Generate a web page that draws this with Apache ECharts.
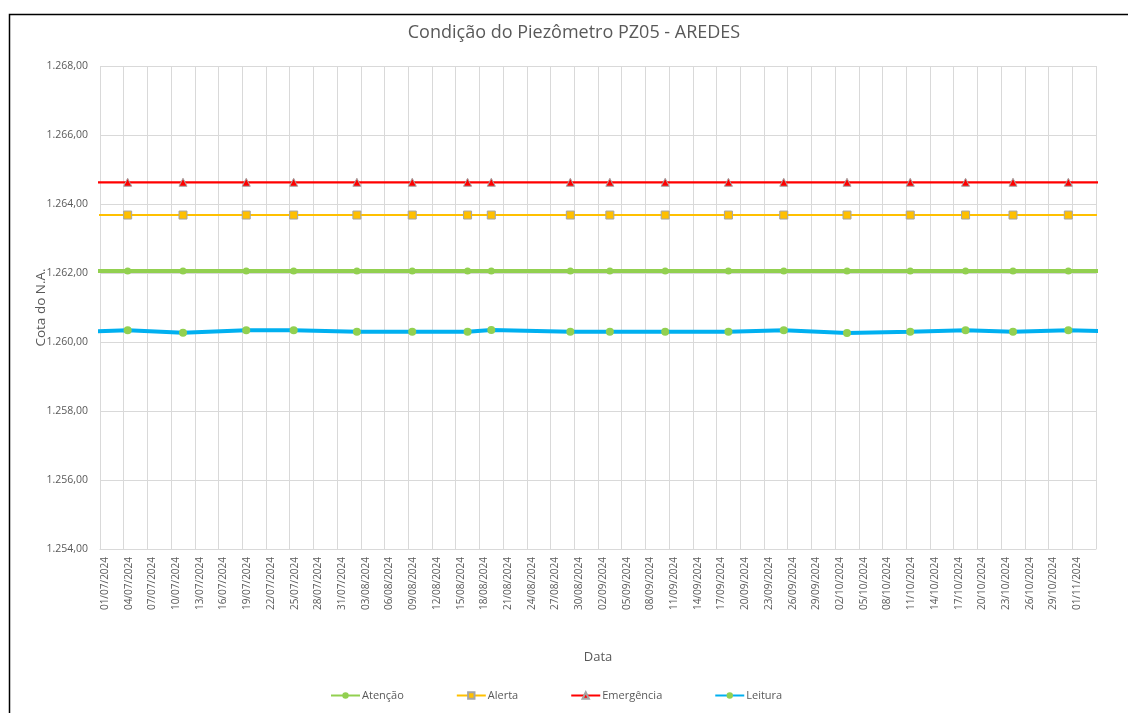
<!DOCTYPE html>
<html>
<head>
<meta charset="utf-8">
<script src="https://cdn.jsdelivr.net/npm/echarts@6/dist/echarts.min.js"></script>
<style>
  html, body { margin: 0; padding: 0; background: #ffffff; }
  #chart { width: 1128px; height: 713px; }
</style>
</head>
<body>
<div id="chart"></div>
<script>
// Reading dates (dd/mm/yyyy); first and last entries lie just outside the plotted window
const dates = [
  '27/06/2024', '04/07/2024', '11/07/2024', '19/07/2024', '25/07/2024', '02/08/2024',
  '09/08/2024', '16/08/2024', '19/08/2024', '29/08/2024', '03/09/2024', '10/09/2024',
  '18/09/2024', '25/09/2024', '03/10/2024', '11/10/2024', '18/10/2024', '24/10/2024',
  '31/10/2024', '07/11/2024'
];

// Threshold levels (m)
const atencao = [
  1262.06, 1262.06, 1262.06, 1262.06, 1262.06, 1262.06, 1262.06, 1262.06, 1262.06, 1262.06,
  1262.06, 1262.06, 1262.06, 1262.06, 1262.06, 1262.06, 1262.06, 1262.06, 1262.06, 1262.06
];
const alerta = [
  1263.68, 1263.68, 1263.68, 1263.68, 1263.68, 1263.68, 1263.68, 1263.68, 1263.68, 1263.68,
  1263.68, 1263.68, 1263.68, 1263.68, 1263.68, 1263.68, 1263.68, 1263.68, 1263.68, 1263.68
];
const emergencia = [
  1264.63, 1264.63, 1264.63, 1264.63, 1264.63, 1264.63, 1264.63, 1264.63, 1264.63, 1264.63,
  1264.63, 1264.63, 1264.63, 1264.63, 1264.63, 1264.63, 1264.63, 1264.63, 1264.63, 1264.63
];

// Water level readings (m)
const leitura = [
  1260.29, 1260.34, 1260.27, 1260.34, 1260.34, 1260.30, 1260.30, 1260.30, 1260.35, 1260.30,
  1260.30, 1260.30, 1260.30, 1260.34, 1260.26, 1260.30, 1260.34, 1260.30, 1260.34, 1260.30
];

// Axis settings
const axisStart = '01/07/2024';
const axisEnd = '04/11/2024';
const dayStep = 3;
const yMin = 1254, yMax = 1268, yStep = 2;

const DAY = 86400000;
function parseDate(s) {
  const [d, m, y] = s.split('/').map(Number);
  return Date.UTC(y, m - 1, d);
}
const t0 = parseDate(axisStart);
// each date occupies one day-wide slot; a reading sits in the middle of its slot
function dayPos(s) { return (parseDate(s) - t0) / DAY + 0.5; }
function pad(n) { return String(n).padStart(2, '0'); }
function dayLabel(v) {
  const d = new Date(t0 + v * DAY);
  return pad(d.getUTCDate()) + '/' + pad(d.getUTCMonth() + 1) + '/' + d.getUTCFullYear();
}
function ptBR(v) {
  const [i, f] = v.toFixed(2).split('.');
  return i.replace(/\B(?=(\d{3})+(?!\d))/g, '.') + ',' + f;
}
function pairs(values) { return dates.map((d, i) => [dayPos(d), values[i]]); }

const textGray = '#595959';
const gridGray = '#d9d9d9';
const font = '"Open Sans", "Liberation Sans", sans-serif';

const chart = echarts.init(document.getElementById('chart'), null, { renderer: 'canvas' });
chart.setOption({
  animation: false,
  backgroundColor: '#ffffff',
  graphic: [
    {
      type: 'rect', left: 7, top: 12, z: -1,
      shape: { width: 1140, height: 720 },
      style: { fill: 'none', stroke: '#000000', lineWidth: 1.5 }
    },
    {
      type: 'text', x: 574, y: 33, z: 10,
      style: {
        text: 'Condição do Piezômetro PZ05 - AREDES',
        fill: textGray, font: '18px ' + font,
        textAlign: 'center', textVerticalAlign: 'middle'
      }
    }
  ],
  grid: { left: 100, right: 32, top: 66, bottom: 164, containLabel: false },
  legend: {
    bottom: 7, left: 325,
    itemWidth: 29, itemHeight: 8, itemGap: 52,
    textStyle: { color: textGray, fontFamily: font, fontSize: 11, padding: [0, 0, 0, -3] },
    data: ['Atenção', 'Alerta', 'Emergência', 'Leitura']
  },
  xAxis: {
    type: 'value',
    min: 0,
    max: (parseDate(axisEnd) - t0) / DAY,
    interval: dayStep,
    name: 'Data',
    nameLocation: 'middle',
    nameGap: 102,
    nameTextStyle: { color: textGray, fontFamily: font, fontSize: 13 },
    axisLine: { show: true, lineStyle: { color: gridGray } },
    axisTick: { show: false },
    axisLabel: {
      rotate: 90, color: textGray, fontFamily: font, fontSize: 10, margin: 8,
      verticalAlign: 'top',
      showMaxLabel: false,
      formatter: v => dayLabel(v)
    },
    splitLine: { show: true, lineStyle: { color: gridGray, width: 1 } }
  },
  yAxis: {
    type: 'value',
    min: yMin, max: yMax, interval: yStep,
    name: 'Cota do N.A.',
    nameLocation: 'middle',
    nameGap: 52,
    nameMoveOverlap: false,
    nameTextStyle: { color: textGray, fontFamily: font, fontSize: 13.5 },
    axisLine: { show: false },
    axisTick: { show: false },
    axisLabel: { color: textGray, fontFamily: font, fontSize: 10.5, margin: 12, formatter: v => ptBR(v) },
    splitLine: { show: true, lineStyle: { color: gridGray, width: 1 } }
  },
  series: [
    {
      name: 'Atenção', type: 'line', data: pairs(atencao), clip: true,
      symbol: 'circle', symbolSize: 7,
      lineStyle: { color: '#92d050', width: 4 },
      itemStyle: { color: '#92d050' }
    },
    {
      name: 'Alerta', type: 'line', data: pairs(alerta), clip: true,
      symbol: 'rect', symbolSize: 8,
      lineStyle: { color: '#ffc000', width: 2 },
      itemStyle: { color: '#ffc000', borderColor: '#a5a5a5', borderWidth: 1 }
    },
    {
      name: 'Emergência', type: 'line', data: pairs(emergencia), clip: true,
      symbol: 'triangle', symbolSize: 8,
      lineStyle: { color: '#ff0000', width: 2.25 },
      itemStyle: { color: '#ff0000', borderColor: '#a5a5a5', borderWidth: 1 }
    },
    {
      name: 'Leitura', type: 'line', data: pairs(leitura), clip: true,
      symbol: 'circle', symbolSize: 8,
      lineStyle: { color: '#00b0f0', width: 4 },
      itemStyle: { color: '#92d050' }
    }
  ]
});
</script>
</body>
</html>
